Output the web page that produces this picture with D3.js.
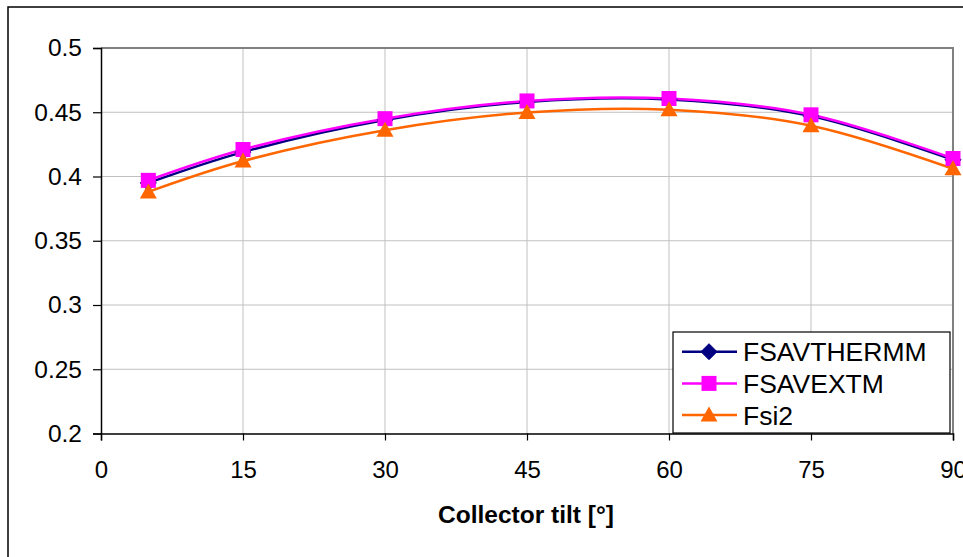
<!DOCTYPE html>
<html>
<head>
<meta charset="utf-8">
<script src="https://cdn.jsdelivr.net/npm/d3@7"></script>
<style>
  html, body { margin: 0; padding: 0; background: #fff; }
  svg { display: block; font-family: "Liberation Sans", Arial, sans-serif; }
</style>
</head>
<body>
<svg id="chart" width="963" height="557"></svg>
<script>
// ---- Data ----
const tilts = [5, 15, 30, 45, 60, 75, 90];
const fsavthermm = [0.395, 0.419, 0.444, 0.458, 0.460, 0.447, 0.413];
const fsavextm   = [0.397, 0.421, 0.445, 0.4588, 0.4607, 0.448, 0.414];
const fsi2       = [0.388, 0.412, 0.436, 0.4498, 0.452, 0.4395, 0.406];
const seriesNames = ["FSAVTHERMM", "FSAVEXTM", "Fsi2"];
const xTicks = [0, 15, 30, 45, 60, 75, 90];
const yTicks = [0.2, 0.25, 0.3, 0.35, 0.4, 0.45, 0.5];
const xTitle = "Collector tilt [°]";

const series = [
  { name: seriesNames[0], values: fsavthermm, color: "#000080", marker: "diamond" },
  { name: seriesNames[1], values: fsavextm,   color: "#FF00FF", marker: "square" },
  { name: seriesNames[2], values: fsi2,       color: "#FF6600", marker: "triangle" }
];

const svg = d3.select("#chart");
const L = 101, R = 953, T = 48, B = 433.5;
const x = d3.scaleLinear().domain([0, 90]).range([L, R]);
const y = d3.scaleLinear().domain([0.2, 0.5]).range([B, T]);

// outer frame
svg.append("rect").attr("x", 8).attr("y", 7).attr("width", 1000).attr("height", 600)
  .attr("fill", "#fff").attr("stroke", "#000").attr("stroke-width", 1.5);

// gridlines
const g = svg.append("g");
g.selectAll("line.hg").data(yTicks.filter(d => d > 0.2 && d < 0.5)).join("line")
  .attr("x1", L).attr("x2", R).attr("y1", d => y(d)).attr("y2", d => y(d))
  .attr("stroke", "#c0c0c0").attr("stroke-width", 1);
g.selectAll("line.vg").data(xTicks.filter(d => d > 0 && d < 90)).join("line")
  .attr("y1", T).attr("y2", B).attr("x1", d => x(d)).attr("x2", d => x(d))
  .attr("stroke", "#c0c0c0").attr("stroke-width", 1);

// plot border (top & right gray)
svg.append("path").attr("d", `M${L},${T}H${R}V${B}`).attr("fill", "none")
  .attr("stroke", "#808080").attr("stroke-width", 2);

// axes
const yAxis = d3.axisLeft(y).tickValues(yTicks).tickSize(8).tickPadding(11)
  .tickFormat(d => String(+d.toFixed(2)));
const ya = svg.append("g").attr("transform", `translate(${L},0)`).call(yAxis);
ya.select(".domain").attr("stroke", "#000").attr("stroke-width", 1.5);
ya.selectAll(".tick line").attr("stroke", "#000").attr("stroke-width", 1.2);
ya.selectAll(".tick text").attr("font-size", 24.5).attr("fill", "#000")
  .attr("font-family", "Liberation Sans, Arial, sans-serif");

const xAxis = d3.axisBottom(x).tickValues(xTicks).tickSize(7).tickPadding(20);
const xa = svg.append("g").attr("transform", `translate(0,${B})`).call(xAxis);
xa.select(".domain").attr("stroke", "#000").attr("stroke-width", 1.5);
xa.selectAll(".tick line").attr("stroke", "#000").attr("stroke-width", 1.2);
xa.selectAll(".tick text").attr("font-size", 24).attr("fill", "#000")
  .attr("font-family", "Liberation Sans, Arial, sans-serif");

// axis title
svg.append("text").attr("x", 526).attr("y", 523).attr("text-anchor", "middle")
  .attr("font-size", 24.5).attr("font-weight", "bold").attr("fill", "#000").text(xTitle);

// markers
function drawMarker(sel, type, color) {
  if (type === "diamond") {
    sel.append("path").attr("d", "M0,-8L8,0L0,8L-8,0Z").attr("fill", color).attr("stroke", color);
  } else if (type === "square") {
    sel.append("rect").attr("x", -7.5).attr("y", -7.5).attr("width", 15).attr("height", 15)
      .attr("fill", color);
  } else {
    sel.append("path").attr("d", "M0,-8.5L8.5,6.5L-8.5,6.5Z").attr("fill", color);
  }
}

const line = d3.line().curve(d3.curveCatmullRom.alpha(0.5));
series.forEach(s => {
  const pts = tilts.map((t, i) => [x(t), y(s.values[i])]);
  svg.append("path").attr("d", line(pts)).attr("fill", "none")
    .attr("stroke", s.color).attr("stroke-width", 2.5);
});
series.forEach(s => {
  tilts.forEach((t, i) => {
    const m = svg.append("g").attr("transform", `translate(${x(t)},${y(s.values[i])})`);
    drawMarker(m, s.marker, s.color);
  });
});

// legend
const lg = svg.append("g");
lg.append("rect").attr("x", 673).attr("y", 332).attr("width", 277).attr("height", 101)
  .attr("fill", "#fff").attr("stroke", "#000").attr("stroke-width", 1.2);
series.forEach((s, i) => {
  const cy = 351.7 + i * 31.7;
  lg.append("line").attr("x1", 682).attr("x2", 737).attr("y1", cy).attr("y2", cy)
    .attr("stroke", s.color).attr("stroke-width", 2.5);
  const m = lg.append("g").attr("transform", `translate(709,${cy})`);
  drawMarker(m, s.marker, s.color);
  lg.append("text").attr("x", 743).attr("y", cy + 9.5).attr("font-size", 26.5)
    .attr("fill", "#000").text(s.name);
});
</script>
</body>
</html>
